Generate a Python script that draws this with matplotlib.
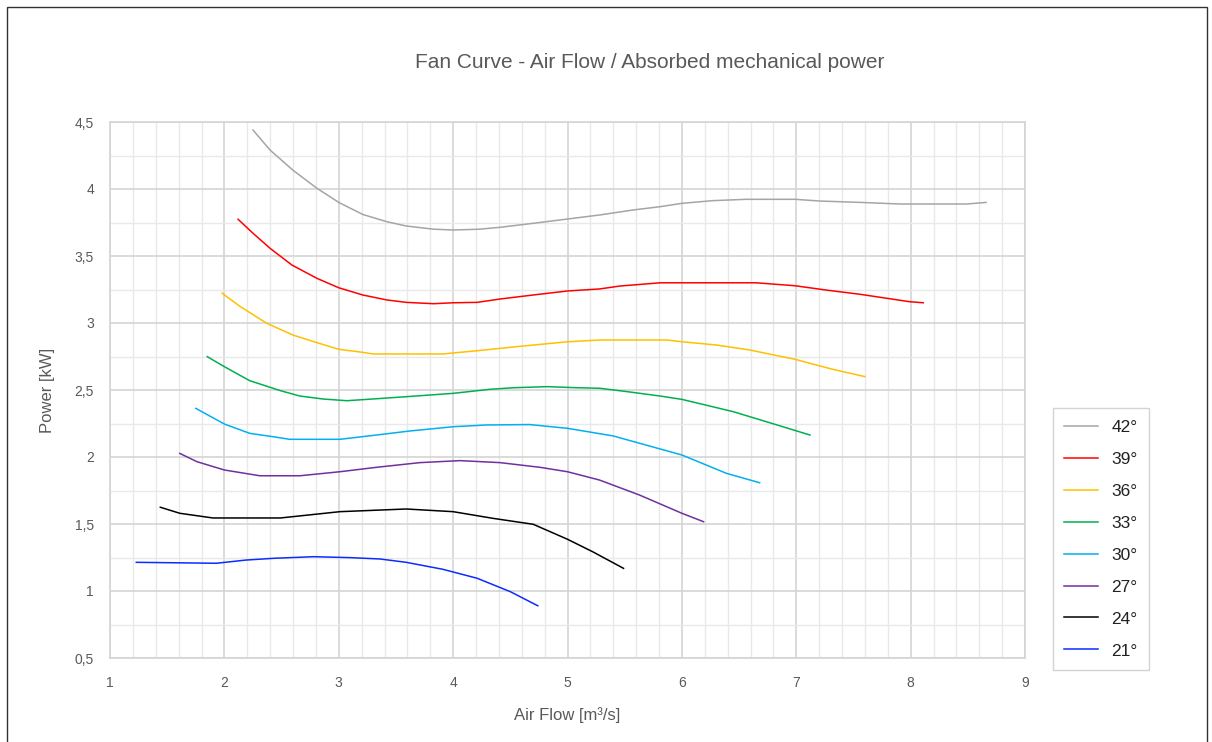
import matplotlib
matplotlib.use("Agg")
import matplotlib.pyplot as plt
from matplotlib.ticker import MultipleLocator, FuncFormatter
from matplotlib.patches import Rectangle

plt.rcParams['font.family'] = ['Liberation Sans', 'DejaVu Sans']

# curve data (air flow m3/s, power kW)
x42 = [2.25, 2.40, 2.60, 2.81, 3.00, 3.21, 3.42, 3.59, 3.83, 4.00, 4.23, 4.41, 4.70, 5.00, 5.28,
       5.57, 5.81, 6.00, 6.27, 6.56, 6.99, 7.21, 7.56, 7.91, 8.49, 8.66]
y42 = [4.44, 4.29, 4.14, 4.005, 3.90, 3.81, 3.756, 3.724, 3.70, 3.694, 3.70, 3.714, 3.744, 3.776, 3.806,
       3.843, 3.868, 3.893, 3.913, 3.923, 3.923, 3.91, 3.90, 3.888, 3.888, 3.90]

x39 = [2.12, 2.25, 2.40, 2.59, 2.81, 3.00, 3.21, 3.42, 3.59, 3.83, 4.00, 4.21, 4.41, 4.70, 5.00, 5.28,
       5.46, 5.81, 6.00, 6.65, 6.99, 7.26, 7.56, 7.85, 7.99, 8.11]
y39 = [3.774, 3.67, 3.557, 3.433, 3.333, 3.263, 3.209, 3.172, 3.154, 3.144, 3.151, 3.154, 3.179, 3.209, 3.239, 3.254,
       3.276, 3.30, 3.30, 3.30, 3.278, 3.246, 3.214, 3.177, 3.159, 3.151]

x36 = [1.98, 2.14, 2.37, 2.60, 2.81, 3.00, 3.21, 3.30, 3.91, 4.21, 4.55, 5.00, 5.28, 5.87, 6.00,
       6.30, 6.59, 6.99, 7.32, 7.60]
y36 = [3.222, 3.122, 2.998, 2.91, 2.853, 2.804, 2.781, 2.769, 2.769, 2.793, 2.823, 2.86, 2.873, 2.873, 2.86,
       2.836, 2.799, 2.729, 2.654, 2.60]

x33 = [1.85, 2.00, 2.22, 2.49, 2.66, 2.86, 3.07, 3.30, 3.59, 4.00, 4.32, 4.53, 4.82, 5.08, 5.28,
       5.52, 5.81, 6.00, 6.27, 6.45, 6.74, 7.12]
y33 = [2.749, 2.674, 2.57, 2.495, 2.455, 2.433, 2.42, 2.433, 2.45, 2.475, 2.505, 2.517, 2.525, 2.517, 2.513,
       2.488, 2.455, 2.43, 2.375, 2.338, 2.263, 2.164]

x30 = [1.75, 2.00, 2.22, 2.46, 2.57, 3.01, 3.33, 3.62, 4.00, 4.29, 4.67, 5.00, 5.40, 6.00, 6.39, 6.68]
y30 = [2.363, 2.246, 2.177, 2.147, 2.132, 2.132, 2.164, 2.194, 2.226, 2.239, 2.242, 2.214, 2.157, 2.015, 1.878, 1.808]

x27 = [1.61, 1.76, 2.00, 2.31, 2.66, 3.01, 3.33, 3.71, 4.06, 4.41, 4.76, 5.00, 5.28, 5.63, 6.00, 6.19]
y27 = [2.027, 1.965, 1.903, 1.86, 1.86, 1.89, 1.923, 1.958, 1.973, 1.958, 1.923, 1.89, 1.828, 1.716, 1.58, 1.517]

x24 = [1.44, 1.61, 1.90, 2.49, 3.01, 3.59, 4.00, 4.35, 4.70, 5.00, 5.22, 5.49]
y24 = [1.625, 1.58, 1.545, 1.545, 1.592, 1.612, 1.592, 1.542, 1.498, 1.386, 1.293, 1.169]

x21 = [1.23, 1.93, 2.19, 2.43, 2.78, 3.10, 3.36, 3.59, 3.91, 4.21, 4.50, 4.74]
y21 = [1.214, 1.207, 1.231, 1.244, 1.256, 1.249, 1.239, 1.214, 1.162, 1.095, 0.995, 0.89]

labels = ['42°', '39°', '36°', '33°', '30°', '27°', '24°', '21°']
xs = [x42, x39, x36, x33, x30, x27, x24, x21]
ys = [y42, y39, y36, y33, y30, y27, y24, y21]
colors = ['#a5a5a5', '#ff0000', '#ffc000', '#00b050', '#00b0f0', '#7030a0', '#000000', '#0a2cff']

fig = plt.figure(figsize=(12.12, 7.42), dpi=100)
ax = fig.add_axes([110/1212, 84/742, 915/1212, 536/742])

for xx, yy, c, lab in zip(xs, ys, colors, labels):
    ax.plot(xx, yy, color=c, lw=1.1, label=lab, solid_joinstyle='round')

ax.set_xlim(1, 9)
ax.set_ylim(0.5, 4.5)
ax.xaxis.set_major_locator(MultipleLocator(1))
ax.xaxis.set_minor_locator(MultipleLocator(0.2))
ax.yaxis.set_major_locator(MultipleLocator(0.5))
ax.yaxis.set_minor_locator(MultipleLocator(0.25))
ax.grid(which='major', color='#d4d4d4', lw=1.2)
ax.grid(which='minor', color='#e9e9e9', lw=1.0)
ax.set_axisbelow(True)
for s in ax.spines.values():
    s.set_color('#d4d4d4')
    s.set_linewidth(1.2)

ax.tick_params(which='both', length=0, labelsize=10, labelcolor='#595959')
ax.tick_params(axis='x', pad=13)
ax.tick_params(axis='y', pad=11.5)
ax.yaxis.set_major_formatter(FuncFormatter(lambda v, p: ('%g' % v).replace('.', ',')))

ax.set_xlabel('Air Flow [m³/s]', fontsize=12, color='#595959', labelpad=12)
ax.set_ylabel('Power [kW]', fontsize=12, color='#595959', labelpad=14)
fig.text(650/1212, 1 - 62/742, 'Fan Curve - Air Flow / Absorbed mechanical power',
         ha='center', va='center', fontsize=15, color='#595959')

leg = ax.legend(loc='upper left', bbox_to_anchor=(1053/1212, 1 - 408/742),
                bbox_transform=fig.transFigure, fontsize=12.5, frameon=True, fancybox=False,
                handlelength=1.95, handletextpad=0.75, labelspacing=0.97, borderpad=0.66,
                borderaxespad=0)
leg.get_frame().set_edgecolor('#c8c8c8')
leg.get_frame().set_linewidth(1.0)
for t in leg.get_texts():
    t.set_color('#222222')

# outer chart border
fig.patches.append(Rectangle((7/1212, -0.01), 1200/1212, 1 - 7/742 + 0.01,
                             transform=fig.transFigure, fill=False,
                             edgecolor='#333333', lw=1.0))

fig.savefig('out.png', dpi=100)
